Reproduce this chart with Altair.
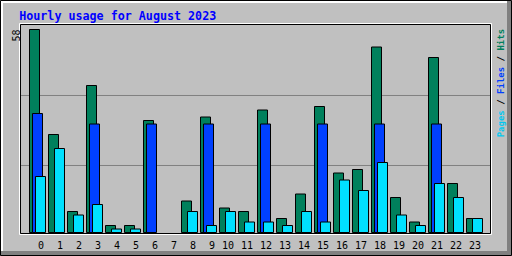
import altair as alt
import pandas as pd

# ---- data ----
hours = list(range(24))
hits = [58, 28, 6, 42, 2, 2, 32, 0, 9, 33, 7, 6, 35, 4, 11, 36, 17, 18, 53, 10, 3, 50, 14, 4]
files = [34, 0, 0, 31, 0, 0, 31, 0, 0, 31, 0, 0, 31, 0, 0, 31, 0, 0, 31, 0, 0, 31, 0, 0]
pages = [16, 24, 5, 8, 1, 1, 0, 0, 6, 2, 6, 3, 3, 2, 6, 3, 15, 12, 20, 5, 2, 14, 10, 4]
title_text = "Hourly usage for August 2023"
legend_parts = ["Pages", "/", "Files", "/", "Hits"]
legend_index = [0, 6, 8, 14, 16]
grid_values = [19.143, 39.143]

HIT_C = "#00805C"
FILE_C = "#0040FF"
PAGE_C = "#00E0FF"
BG = "#C0C0C0"
DK = "#808080"
FONT = "DejaVu Sans Mono"

# ---- layout ----
W, H = 472, 210          # plot area: abs x 20..492, y 24..234
OX, OY = 20, 24
PX = 19.0
XD = [-21.5 / PX, (W - 21.5) / PX]
YD = [-(H - 208.5) / 3.5, 208.5 / 3.5]
xs = alt.Scale(domain=XD, nice=False, zero=False)
ys = alt.Scale(domain=YD, nice=False, zero=False)

one = pd.DataFrame({"k": [0]})


def box(x1, y1, x2, y2, fill=None, stroke=None):
    kw = dict(clip=False)
    kw["fill"] = fill if fill else "transparent"
    if stroke:
        kw["stroke"] = stroke
        kw["strokeWidth"] = 1
    return alt.Chart(one).mark_rect(**kw).encode(
        x=alt.value(x1 - OX), x2=alt.value(x2 - OX),
        y=alt.value(y1 - OY), y2=alt.value(y2 - OY))


def bars(vals, color, off):
    df = pd.DataFrame({"hour": hours, "v": vals})
    df = df[df.v > 0]
    return alt.Chart(df).transform_calculate(
        x0=f"datum.hour + ({off[0]})", x1=f"datum.hour + ({off[1]})", base="0"
    ).mark_rect(fill=color, stroke="black", strokeWidth=1).encode(
        x=alt.X("x0:Q", scale=xs, axis=None),
        x2="x1:Q",
        y=alt.Y("v:Q", scale=ys, axis=None),
        y2="base:Q",
    )


layers = []
# outer frame
layers.append(box(1, 1, 507, 3, fill="white"))
layers.append(box(1, 1, 3, 251, fill="white"))
layers.append(box(507, 1, 511, 255, fill=DK))
layers.append(box(1, 251, 511, 255, fill=DK))
layers.append(box(0.5, 0.5, 511.5, 255.5, stroke="black"))

# grid lines
grid = alt.Chart(pd.DataFrame({"g": grid_values})).mark_rule(color=DK, strokeWidth=1).encode(
    y=alt.Y("g:Q", scale=ys, axis=None), x=alt.value(1), x2=alt.value(470))
layers.append(grid)

# bars
layers.append(bars(hits, HIT_C, (-12 / PX, -2 / PX)))
layers.append(bars(files, FILE_C, (-9 / PX, 1 / PX)))
layers.append(bars(pages, PAGE_C, (-6 / PX, 4 / PX)))

# inner frame
layers.append(box(19.5, 23.5, 491.5, 234.5, stroke="white"))
layers.append(box(20.5, 24.5, 490.5, 233.5, stroke="black"))

# hour labels
layers.append(alt.Chart(pd.DataFrame({"hour": hours})).mark_text(
    align="right", baseline="alphabetic", font=FONT, fontSize=10, color="black",
    dx=2.5, clip=False).encode(
    text=alt.Text("hour:Q", format="d"),
    x=alt.X("hour:Q", scale=xs, axis=None),
    y=alt.value(249 - OY)))

# title
layers.append(alt.Chart(pd.DataFrame({"t": [title_text]})).mark_text(
    align="left", baseline="alphabetic", font=FONT, fontSize=11.7, fontWeight="bold",
    color="#0000FF", clip=False).encode(
    text="t:N", x=alt.value(19.2 - OX), y=alt.value(20 - OY)))

# max label
layers.append(alt.Chart(pd.DataFrame({"m": [max(hits)]})).mark_text(
    align="right", baseline="alphabetic", angle=270, font=FONT, fontSize=10,
    color="black", clip=False).encode(
    text="m:Q", y=alt.Y("m:Q", scale=ys, axis=None), x=alt.value(19.5 - OX)))

# right legend
leg_colors = ["#00C8F0", "black", FILE_C, "black", HIT_C]
CW = 9 * 0.6021
for part, idx, col in zip(legend_parts, legend_index, leg_colors):
    layers.append(alt.Chart(pd.DataFrame({"t": [part]})).mark_text(
        align="left", baseline="alphabetic", angle=270, font=FONT, fontSize=9,
        fontWeight="bold", color=col, clip=False).encode(
        text="t:N", x=alt.value(503.6 - OX), y=alt.value(137.3 - OY - idx * CW)))

chart = alt.layer(*layers).properties(
    width=W, height=H,
    autosize=alt.AutoSizeParams(type="none"),
    padding={"left": OX, "top": OY, "right": 512 - OX - W, "bottom": 256 - OY - H},
    background=BG,
).configure_view(strokeWidth=0, fill=BG)

chart.save("out.html", embed_options={"renderer": "svg", "actions": False})
